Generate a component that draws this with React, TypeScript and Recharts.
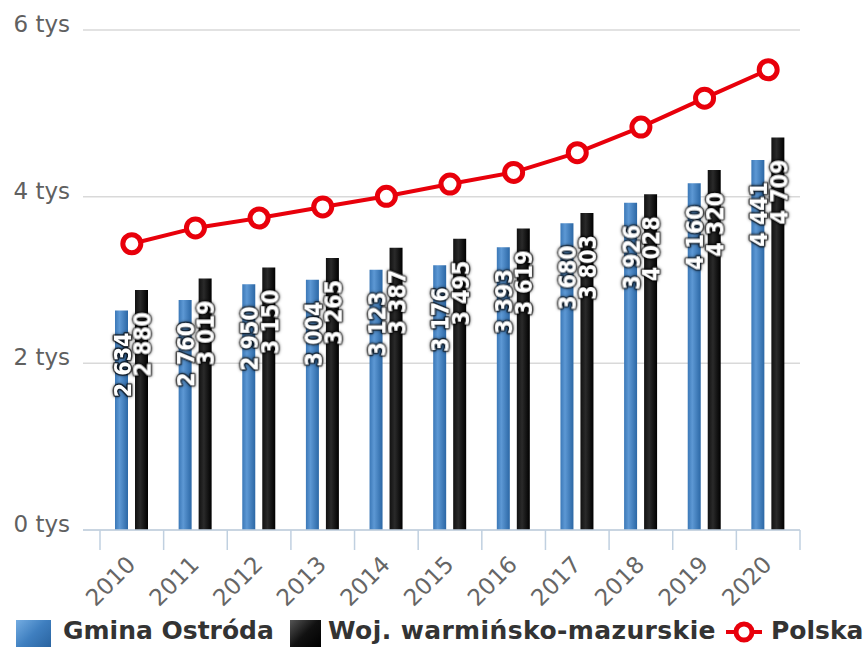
import React from "react";
import {
  ComposedChart,
  Bar,
  Line,
  XAxis,
  YAxis,
  CartesianGrid,
  Legend,
  LabelList,
} from "recharts";

const years = ["2010", "2011", "2012", "2013", "2014", "2015", "2016", "2017", "2018", "2019", "2020"];
const gminaOstroda = [2634, 2760, 2950, 3004, 3123, 3176, 3393, 3680, 3926, 4160, 4441];
const wojWarminsko = [2880, 3019, 3150, 3265, 3387, 3495, 3619, 3803, 4028, 4320, 4709];
const polska = [3435, 3625, 3744, 3877, 4004, 4151, 4291, 4528, 4835, 5182, 5523];
const yTicks = [0, 2000, 4000, 6000];

const data = years.map((year, i) => ({
  year,
  gmina: gminaOstroda[i],
  woj: wojWarminsko[i],
  polska: polska[i],
}));

const W = 865;
const H = 647;
const PLOT_LEFT = 83;
const PLOT_RIGHT = 800;
const PAD_LEFT = 17;
const BAND = (PLOT_RIGHT - PLOT_LEFT - PAD_LEFT) / years.length;

const RED = "#e8000b";
const AXIS_COLOR = "#c0d0e0";
const FONT = "'DejaVu Sans', Verdana, sans-serif";

const fmt = (v: number) => {
  const th = Math.floor(v / 1000);
  const rest = String(v % 1000).padStart(3, "0");
  return `${th} ${rest}`;
};

const BarLabel = (props: any) => {
  const { x, y, width, value } = props;
  const cx = x + width / 2 + 1;
  const ty = y + 22;
  return (
    <text
      x={cx}
      y={ty}
      transform={`rotate(-90 ${cx} ${ty})`}
      textAnchor="end"
      dominantBaseline="central"
      fill="#fff"
      stroke="rgba(0,0,0,0.55)"
      strokeWidth={3}
      strokeLinejoin="round"
      paintOrder="stroke"
      filter="url(#lblShadow)"
      fontFamily="'DejaVu Sans Condensed', 'DejaVu Sans', sans-serif"
      fontWeight="bold"
      fontSize={23}
    >
      {fmt(value)}
    </text>
  );
};

const YTick = (props: any) => {
  const { y, payload } = props;
  return (
    <text x={70} y={y + 2} textAnchor="end" fill="#606060" fontFamily={FONT} fontSize={23}>
      {`${payload.value / 1000} tys`}
    </text>
  );
};

const XTick = (props: any) => {
  const { x, y, payload, index } = props;
  const tx = x + 5;
  const ty = y + 36;
  return (
    <g>
      <line x1={x - BAND / 2} x2={x - BAND / 2} y1={y} y2={y + 20} stroke={AXIS_COLOR} strokeWidth={1.5} />
      {index === years.length - 1 && (
        <line x1={x + BAND / 2} x2={x + BAND / 2} y1={y} y2={y + 20} stroke={AXIS_COLOR} strokeWidth={1.5} />
      )}
      <text
        x={tx}
        y={ty}
        transform={`rotate(-45 ${tx} ${ty})`}
        textAnchor="end"
        fill="#666"
        fontFamily={FONT}
        fontSize={23}
      >
        {payload.value}
      </text>
    </g>
  );
};

const renderLegend = () => (
  <div
    style={{
      position: "relative",
      height: 35,
      width: W,
      fontFamily: FONT,
      fontWeight: "bold",
      fontSize: 25,
      lineHeight: "25px",
      color: "#333",
      whiteSpace: "nowrap",
    }}
  >
    <div
      style={{
        position: "absolute",
        left: 16,
        top: 8,
        width: 35,
        height: 27,
        background: "linear-gradient(135deg, #74ade2 0%, #3f7fc0 50%, #2a64a0 100%)",
      }}
    />
    <div style={{ position: "absolute", left: 63, top: 6 }}>Gmina Ostróda</div>
    <div
      style={{
        position: "absolute",
        left: 290,
        top: 8,
        width: 31,
        height: 27,
        background: "linear-gradient(135deg, #555 0%, #111 50%, #000 100%)",
      }}
    />
    <div style={{ position: "absolute", left: 328, top: 6, letterSpacing: 0.4 }}>Woj. warmińsko-mazurskie</div>
    <svg style={{ position: "absolute", left: 724, top: 8 }} width={40} height={26}>
      <line x1={2} x2={38} y1={12} y2={12} stroke={RED} strokeWidth={4} />
      <circle cx={20} cy={12} r={8} fill="#fff" stroke={RED} strokeWidth={5} />
    </svg>
    <div style={{ position: "absolute", left: 771, top: 6 }}>Polska</div>
  </div>
);

export default function App() {
  return (
    <div style={{ position: "absolute", left: 0, top: 0, width: W, height: H, background: "#fff", overflow: "hidden" }}>
      <ComposedChart
        width={W}
        height={H}
        data={data}
        margin={{ top: 30, right: W - PLOT_RIGHT, bottom: 0, left: 0 }}
        barSize={13}
        barGap={7}
      >
        <defs>
          <linearGradient id="blueBar" x1="0" y1="0" x2="1" y2="0">
            <stop offset="0%" stopColor="#3b78b7" />
            <stop offset="35%" stopColor="#5d98d4" />
            <stop offset="100%" stopColor="#2b67a5" />
          </linearGradient>
          <linearGradient id="blackBar" x1="0" y1="0" x2="1" y2="0">
            <stop offset="0%" stopColor="#111" />
            <stop offset="40%" stopColor="#2a2a2a" />
            <stop offset="100%" stopColor="#000" />
          </linearGradient>
          <filter id="lblShadow" x="-50%" y="-50%" width="200%" height="200%">
            <feDropShadow dx="0" dy="0" stdDeviation="1.5" floodColor="#000" floodOpacity="0.8" />
          </filter>
        </defs>
        <CartesianGrid vertical={false} stroke="#d9d9d9" strokeWidth={1.5} />
        <XAxis
          dataKey="year"
          height={82}
          padding={{ left: PAD_LEFT, right: 0 }}
          axisLine={{ stroke: AXIS_COLOR, strokeWidth: 1.5 }}
          tickLine={false}
          tickSize={0}
          tickMargin={0}
          interval={0}
          tick={<XTick />}
        />
        <YAxis
          width={PLOT_LEFT}
          domain={[0, 6000]}
          ticks={yTicks}
          axisLine={false}
          tickLine={false}
          tick={<YTick />}
        />
        <Legend verticalAlign="bottom" content={renderLegend} wrapperStyle={{ left: 0, bottom: 0, width: W }} />
        <Bar dataKey="gmina" name="Gmina Ostróda" fill="url(#blueBar)" isAnimationActive={false}>
          <LabelList dataKey="gmina" content={<BarLabel />} />
        </Bar>
        <Bar dataKey="woj" name="Woj. warmińsko-mazurskie" fill="url(#blackBar)" isAnimationActive={false}>
          <LabelList dataKey="woj" content={<BarLabel />} />
        </Bar>
        <Line
          dataKey="polska"
          name="Polska"
          type="linear"
          stroke={RED}
          strokeWidth={4}
          dot={{ r: 9, fill: "#fff", stroke: RED, strokeWidth: 5 }}
          isAnimationActive={false}
        />
      </ComposedChart>
    </div>
  );
}
